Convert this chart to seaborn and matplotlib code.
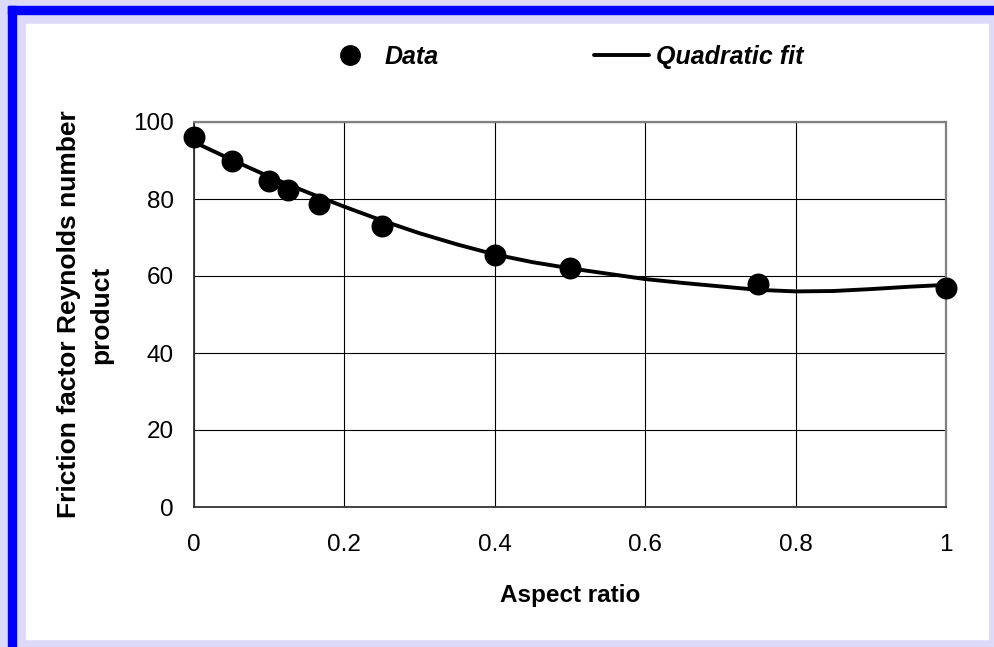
import matplotlib
matplotlib.use("Agg")
import matplotlib.pyplot as plt
from matplotlib.patches import Rectangle
from matplotlib.lines import Line2D
import seaborn as sns
import pandas as pd

# ---- data ----
aspect_ratio = [0.0, 0.05, 0.1, 0.125, 0.1667, 0.25, 0.4, 0.5, 0.75, 1.0]
fre_data = [96.0, 89.9, 84.7, 82.3, 78.8, 72.9, 65.5, 62.2, 57.9, 56.9]

fit_x = [0.0, 0.05, 0.1, 0.15, 0.2, 0.25, 0.3, 0.35, 0.4, 0.45, 0.5,
         0.55, 0.6, 0.65, 0.7, 0.75, 0.8, 0.85, 0.9, 0.95, 1.0]
fit_y = [94.8, 90.2, 85.8, 81.8, 78.0, 74.4, 71.1, 68.2, 65.6, 63.6, 62.0,
         60.6, 59.2, 58.2, 57.3, 56.4, 56.0, 56.1, 56.6, 57.2, 57.7]

x_ticks = [0, 0.2, 0.4, 0.6, 0.8, 1]
x_tick_labels = ["0", "0.2", "0.4", "0.6", "0.8", "1"]
y_ticks = [0, 20, 40, 60, 80, 100]

df_data = pd.DataFrame({"x": aspect_ratio, "y": fre_data})
df_fit = pd.DataFrame({"x": fit_x, "y": fit_y})

sns.set_style("white")
plt.rcParams["font.family"] = ["Liberation Sans", "DejaVu Sans"]
plt.rcParams["text.color"] = "black"
plt.rcParams["axes.labelcolor"] = "black"

W, H = 995, 647
fig = plt.figure(figsize=(W / 100, H / 100), dpi=100)
fig.patch.set_facecolor("#DCDAF8")

# frame decorations (in pixel fractions)
fig.patches.append(Rectangle((8 / W, 0), 8 / W, (H - 6) / H,
                             transform=fig.transFigure, color="#0000FF", zorder=-10))
fig.patches.append(Rectangle((8 / W, 1 - 14 / H), (W - 8) / W, 8 / H,
                             transform=fig.transFigure, color="#0000FF", zorder=-10))
fig.patches.append(Rectangle((26 / W, 1 - 639 / H), 962 / W, 615 / H,
                             transform=fig.transFigure, color="white", zorder=-10))

left, right = 194 / W, 946 / W
top, bottom = 1 - 122 / H, 1 - 507 / H
ax = fig.add_axes([left, bottom, right - left, top - bottom])
ax.set_facecolor("white")

sns.lineplot(data=df_fit, x="x", y="y", ax=ax, color="black", linewidth=2.8,
             zorder=3, clip_on=False)
sns.scatterplot(data=df_data, x="x", y="y", ax=ax, color="black", s=250,
                edgecolor="black", linewidth=0, zorder=4, clip_on=False)

ax.set_xlim(0, 1)
ax.set_ylim(0, 100)
ax.set_xticks(x_ticks)
ax.set_xticklabels(x_tick_labels)
ax.set_yticks(y_ticks)

ax.grid(True, color="black", linewidth=0.8)
ax.set_axisbelow(True)

for s in ["top", "right"]:
    ax.spines[s].set_color("#808080")
    ax.spines[s].set_linewidth(1.6)
for s in ["left", "bottom"]:
    ax.spines[s].set_color("#333333")
    ax.spines[s].set_linewidth(1.3)

ax.tick_params(axis="both", which="major", direction="out", length=5.5,
               width=1.0, color="#333333", labelsize=17.5, labelcolor="black")
ax.tick_params(axis="y", pad=9)
ax.tick_params(axis="x", pad=14)

ax.set_xlabel("Aspect ratio", fontsize=17.5, fontweight="bold", labelpad=20)
ax.set_ylabel("Friction factor Reynolds number\nproduct", fontsize=19,
              fontweight="bold", labelpad=14, linespacing=1.45)

handles = [
    Line2D([], [], marker="o", color="black", linestyle="none", markersize=14),
    Line2D([], [], color="black", linewidth=2.8),
]
leg = fig.legend(handles, ["Data", "Quadratic fit"], ncol=2, frameon=False,
                 loc="center", bbox_to_anchor=(563 / W, 1 - 57 / H),
                 prop={"size": 18, "weight": "bold", "style": "italic"},
                 handlelength=2.2, handletextpad=0.3, columnspacing=6.2)

fig.savefig("out.png", dpi=100, facecolor=fig.get_facecolor())
